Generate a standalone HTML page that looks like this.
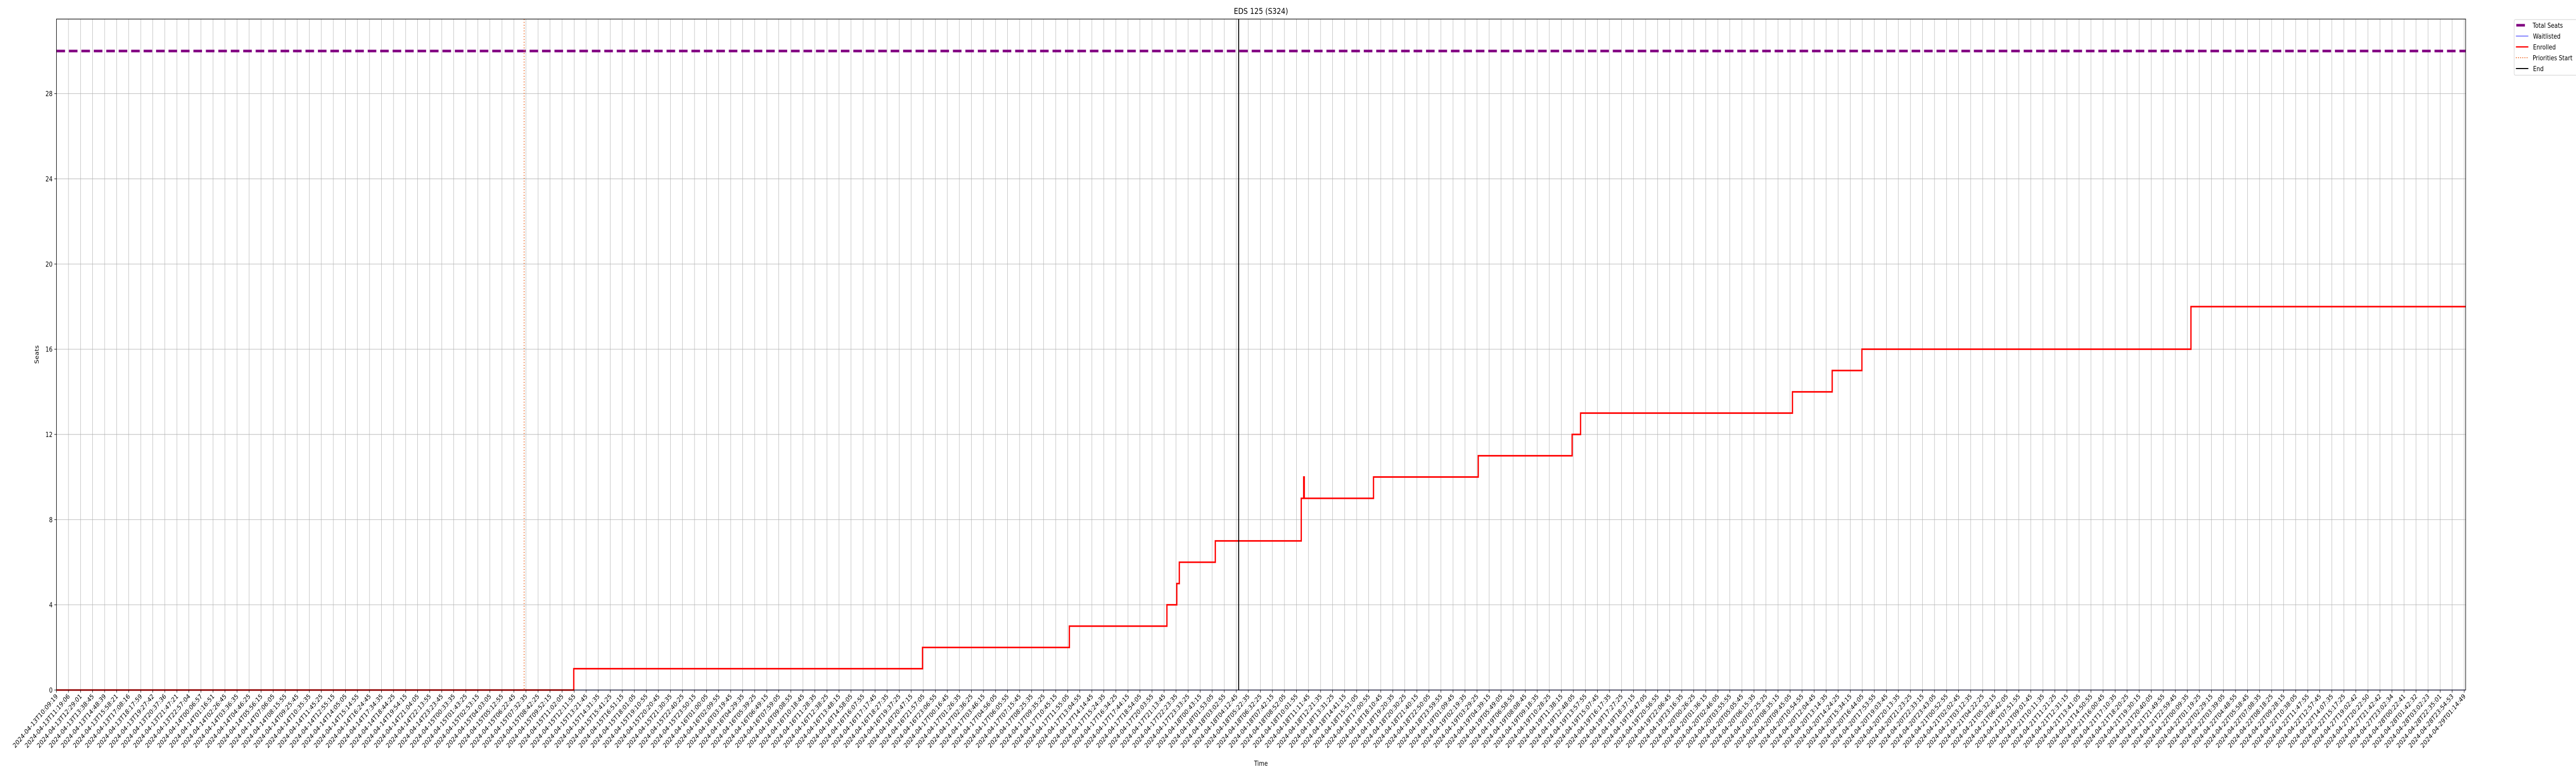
<!DOCTYPE html>
<html><head><meta charset="utf-8">
<style>
html,body{margin:0;padding:0;background:#fff;width:100%;height:100%;overflow:hidden;}
svg{display:block;position:absolute;left:0;top:0;width:100vw;height:100vh;font-family:"DejaVu Sans","Liberation Sans",sans-serif;}
</style></head>
<body>
<svg id="chart" xmlns="http://www.w3.org/2000/svg" viewBox="0 0 6000 1500" preserveAspectRatio="none">
<rect x="0" y="0" width="6000" height="1500" fill="#fff"/>
<text x="2937" y="27" font-size="16" text-anchor="middle">EDS 125 (S324)</text>
<text x="2937" y="1486" font-size="13" text-anchor="middle">Time</text>
<text x="0" y="0" font-size="13" text-anchor="middle" transform="translate(90,688) rotate(-90)">Seats</text>
<g id="grid"></g>
<g id="marks"></g>
<g id="axes"></g>
<g>
<rect x="5856" y="38" width="160" height="108" rx="3" fill="#fff" stroke="#ccc" stroke-width="1"/>
<g><line x1="5861" y1="49" x2="5881" y2="49" stroke="#800080" stroke-width="5"/><text x="5899" y="54" font-size="13">Total Seats</text></g>
<g><line x1="5860" y1="70" x2="5889" y2="70" stroke="#0000ff" stroke-width="1"/><text x="5900" y="75" font-size="13">Waitlisted</text></g>
<g><line x1="5860" y1="91" x2="5889" y2="91" stroke="#ff0000" stroke-width="2.5"/><text x="5900" y="96" font-size="13">Enrolled</text></g>
<g><line x1="5860" y1="112" x2="5889" y2="112" stroke="#f07030" stroke-width="2" stroke-dasharray="2,3"/><text x="5899" y="117" font-size="13">Priorities Start</text></g>
<g><line x1="5860" y1="133" x2="5889" y2="133" stroke="#000" stroke-width="2"/><text x="5900" y="138" font-size="13">End</text></g>
</g>
</svg>
<script>
// ---- data ----
const totalSeats = 30;
const enrolledX = [0, 42.97, 71.94, 84.14, 92.24, 93.06, 93.27, 96.26, 103.4, 103.6, 103.65, 109.4, 118.1, 125.9, 126.6, 144.2, 147.5, 149.97, 177.3, 200.12];
const enrolledY = [0, 1, 2, 3, 4, 5, 6, 7, 9, 10, 9, 10, 11, 12, 13, 14, 15, 16, 18, 18];
const waitlistX = [0, 200.12];
const waitlistY = [0, 0];
const prioritiesStartX = 38.85;
const endX = 98.2;
const yTicks = [0, 4, 8, 12, 16, 20, 24, 28];
const firstLabels = ["2024-04-13T10:09:19","2024-04-13T11:19:06","2024-04-13T12:29:01","2024-04-13T13:38:45","2024-04-13T14:48:39","2024-04-13T15:58:21","2024-04-13T17:08:16","2024-04-13T18:17:59","2024-04-13T19:27:42","2024-04-13T20:37:36","2024-04-13T21:47:21","2024-04-13T22:57:04","2024-04-14T00:06:57","2024-04-14T01:16:51","2024-04-14T02:26:45"];
const lastLabels = ["2024-04-27T19:02:42","2024-04-27T20:22:50","2024-04-27T21:42:42","2024-04-27T23:02:34","2024-04-28T00:22:41","2024-04-28T01:42:32","2024-04-28T03:02:23","2024-04-28T22:35:01","2024-04-28T23:54:53","2024-04-29T01:14:49"];
const tickCount = 201;

// ---- axes ----
const X0 = 131.5, X1 = 5743, Y0 = 1339, Y1 = 37;
const xMin = 0, xMax = 200.12, yMin = 0, yMax = 31.5;
const sx = v => X0 + (v - xMin) / (xMax - xMin) * (X1 - X0);
const sy = v => Y0 - (v - yMin) / (yMax - yMin) * (Y0 - Y1);
const NS = "http://www.w3.org/2000/svg";
function mk(tag, attrs, parent) {
  const e = document.createElementNS(NS, tag);
  for (const k in attrs) e.setAttribute(k, attrs[k]);
  parent.appendChild(e);
  return e;
}
function pad(n){return String(n).padStart(2,'0');}
const labels = [];
const start = Date.UTC(2024,3,14,2,26,45);
const midCount = tickCount - firstLabels.length - lastLabels.length;
for (let i = 0; i < firstLabels.length; i++) labels.push(firstLabels[i]);
for (let i = 1; i <= midCount; i++) {
  const d = new Date(start + i * 4190000);
  labels.push(d.getUTCFullYear()+"-"+pad(d.getUTCMonth()+1)+"-"+pad(d.getUTCDate())+"T"+pad(d.getUTCHours())+":"+pad(d.getUTCMinutes())+":"+pad(d.getUTCSeconds()));
}
for (let i = 0; i < lastLabels.length; i++) labels.push(lastLabels[i]);

const grid = document.getElementById('grid');
const marks = document.getElementById('marks');
const axes = document.getElementById('axes');

for (let i = 0; i < labels.length; i++) {
  const x = sx(i);
  const gl = mk('line', {x1:x, y1:Y1, x2:x, y2:Y0, stroke:'#b0b0b0', 'stroke-width':0.9}, grid);
  
  
  const tk = mk('line', {x1:x, y1:Y0, x2:x, y2:Y0+5, stroke:'#000', 'stroke-width':1}, axes);
  
  
  const t = mk('text', {x:0, y:0, 'font-size':13, 'text-anchor':'end', transform:'translate('+(x+4)+','+(Y0+13)+') rotate(-45)'}, axes);
  t.textContent = labels[i];
  
  
}
for (const v of yTicks) {
  const y = sy(v);
  const gl = mk('line', {x1:X0, y1:y, x2:X1, y2:y, stroke:'#b0b0b0', 'stroke-width':0.9}, grid);
  
  
  const tk = mk('line', {x1:X0-5, y1:y, x2:X0, y2:y, stroke:'#000', 'stroke-width':1}, axes);
  
  
  const t = mk('text', {x:X0-9, y:y+5, 'font-size':13, 'text-anchor':'end'}, axes);
  t.textContent = v;
  
  
}
const frame = mk('rect', {x:X0, y:Y1, width:X1-X0, height:Y0-Y1, fill:'none', stroke:'#000', 'stroke-width':1.2}, axes);



function stepPath(xs, ys) {
  let d = 'M' + sx(xs[0]) + ',' + sy(ys[0]);
  for (let i = 1; i < xs.length; i++) {
    d += ' L' + sx(xs[i]) + ',' + sy(ys[i-1]) + ' L' + sx(xs[i]) + ',' + sy(ys[i]);
  }
  return d;
}
const ts = mk('line', {x1:X0, y1:sy(totalSeats), x2:X1, y2:sy(totalSeats), stroke:'#800080', 'stroke-width':5, 'stroke-dasharray':'20,9'}, marks);


const ps = mk('line', {x1:sx(prioritiesStartX), y1:Y1, x2:sx(prioritiesStartX), y2:Y0, stroke:'#f07030', 'stroke-width':2, 'stroke-dasharray':'2,3.5'}, marks);


const wl = mk('path', {d:stepPath(waitlistX, waitlistY), fill:'none', stroke:'#0000ff', 'stroke-width':1.2}, marks);


const en = mk('path', {d:stepPath(enrolledX, enrolledY), fill:'none', stroke:'#ff0000', 'stroke-width':3, 'stroke-linejoin':'miter'}, marks);


const el = mk('line', {x1:sx(endX), y1:Y1, x2:sx(endX), y2:Y0, stroke:'#000', 'stroke-width':2.2}, marks);


</script>
</body></html>
